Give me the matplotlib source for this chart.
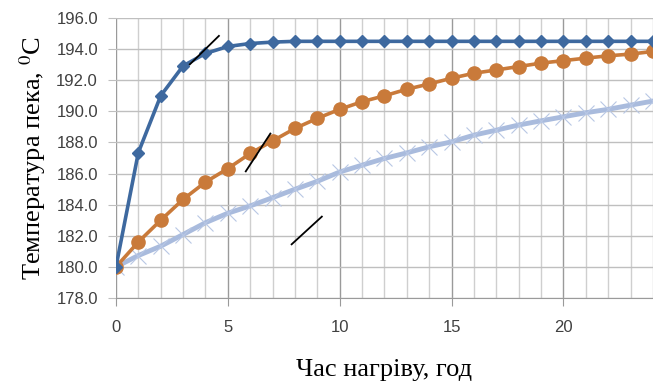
import numpy as np
import matplotlib
matplotlib.use("Agg")
import matplotlib.pyplot as plt
from matplotlib.ticker import MultipleLocator

hours = list(range(0, 25))
temp_fast = [180.0, 187.35, 191.0, 192.92, 193.72, 194.17, 194.36, 194.45, 194.5, 194.5,
             194.5, 194.5, 194.5, 194.5, 194.5, 194.5, 194.5, 194.5, 194.5, 194.5,
             194.5, 194.5, 194.5, 194.5, 194.5]
temp_mid = [180.0, 181.6, 183.0, 184.34, 185.45, 186.32, 187.29, 188.1, 188.9, 189.55,
            190.13, 190.62, 191.0, 191.42, 191.76, 192.13, 192.45, 192.66, 192.88, 193.1,
            193.26, 193.42, 193.57, 193.68, 193.85]
temp_slow = [180.0, 180.73, 181.33, 182.08, 182.84, 183.45, 183.92, 184.45, 184.99, 185.5,
             186.1, 186.54, 186.97, 187.33, 187.72, 188.04, 188.47, 188.79, 189.12, 189.39,
             189.65, 189.91, 190.13, 190.4, 190.66]

# short tangent strokes drawn by hand on the original
tangent_x = [[3.3, 4.6], [5.8, 6.9], [7.85, 9.2]]
tangent_y = [[193.02, 194.85], [186.14, 188.57], [181.45, 183.23]]

plt.rcParams['mathtext.fontset'] = 'stix'

fig = plt.figure(figsize=(6.53, 3.83), dpi=100)
ax = fig.add_axes([0.1776, 0.222, 0.8224, 0.731])

ax.plot(hours, temp_slow, color='#a9bbdd', lw=3.5, zorder=3)
ax.plot(hours, temp_slow, ls='none', marker='x', ms=11, mew=0.8, color='#b8c7e4', zorder=3)
ax.plot(hours, temp_mid, color='#c97a3a', lw=2.6, marker='o', ms=9.5, zorder=4)
ax.plot(hours, temp_fast, color='#3e699f', lw=2.6, marker='D', ms=6.5, zorder=5)

for tx, ty in zip(tangent_x, tangent_y):
    ax.plot(tx, ty, color='black', lw=1.3, zorder=6)

ax.set_xlim(0, 24)
ax.set_ylim(178, 196)
ax.xaxis.set_major_locator(MultipleLocator(5))
ax.xaxis.set_minor_locator(MultipleLocator(1))
ax.yaxis.set_major_locator(MultipleLocator(2))
ax.yaxis.set_major_formatter(matplotlib.ticker.FormatStrFormatter('%.1f'))

ax.grid(which='major', axis='x', color='#9a9a9a', lw=1.0)
ax.grid(which='minor', axis='x', color='#cfcfcf', lw=1.0)
ax.grid(which='major', axis='y', color='#bfbfbf', lw=1.0)
ax.set_axisbelow(True)

for s in ['top', 'right', 'left']:
    ax.spines[s].set_visible(False)
ax.spines['bottom'].set_color('#9a9a9a')

ax.tick_params(axis='x', which='major', length=6, color='#9a9a9a', pad=10,
               labelsize=12, labelcolor='#404040')
ax.tick_params(axis='x', which='minor', length=0)
ax.tick_params(axis='y', length=6, color='#bfbfbf', pad=7, labelsize=12,
               labelcolor='#404040')
for lab in ax.get_xticklabels() + ax.get_yticklabels():
    lab.set_family('Liberation Sans')

ax.set_xlabel('Час нагріву, год', family='Liberation Serif', fontsize=19, labelpad=17)
ax.set_ylabel('Температура пека, $^{0}$С', family='Liberation Serif', fontsize=19,
              labelpad=6)

fig.savefig('out.png', dpi=100)
